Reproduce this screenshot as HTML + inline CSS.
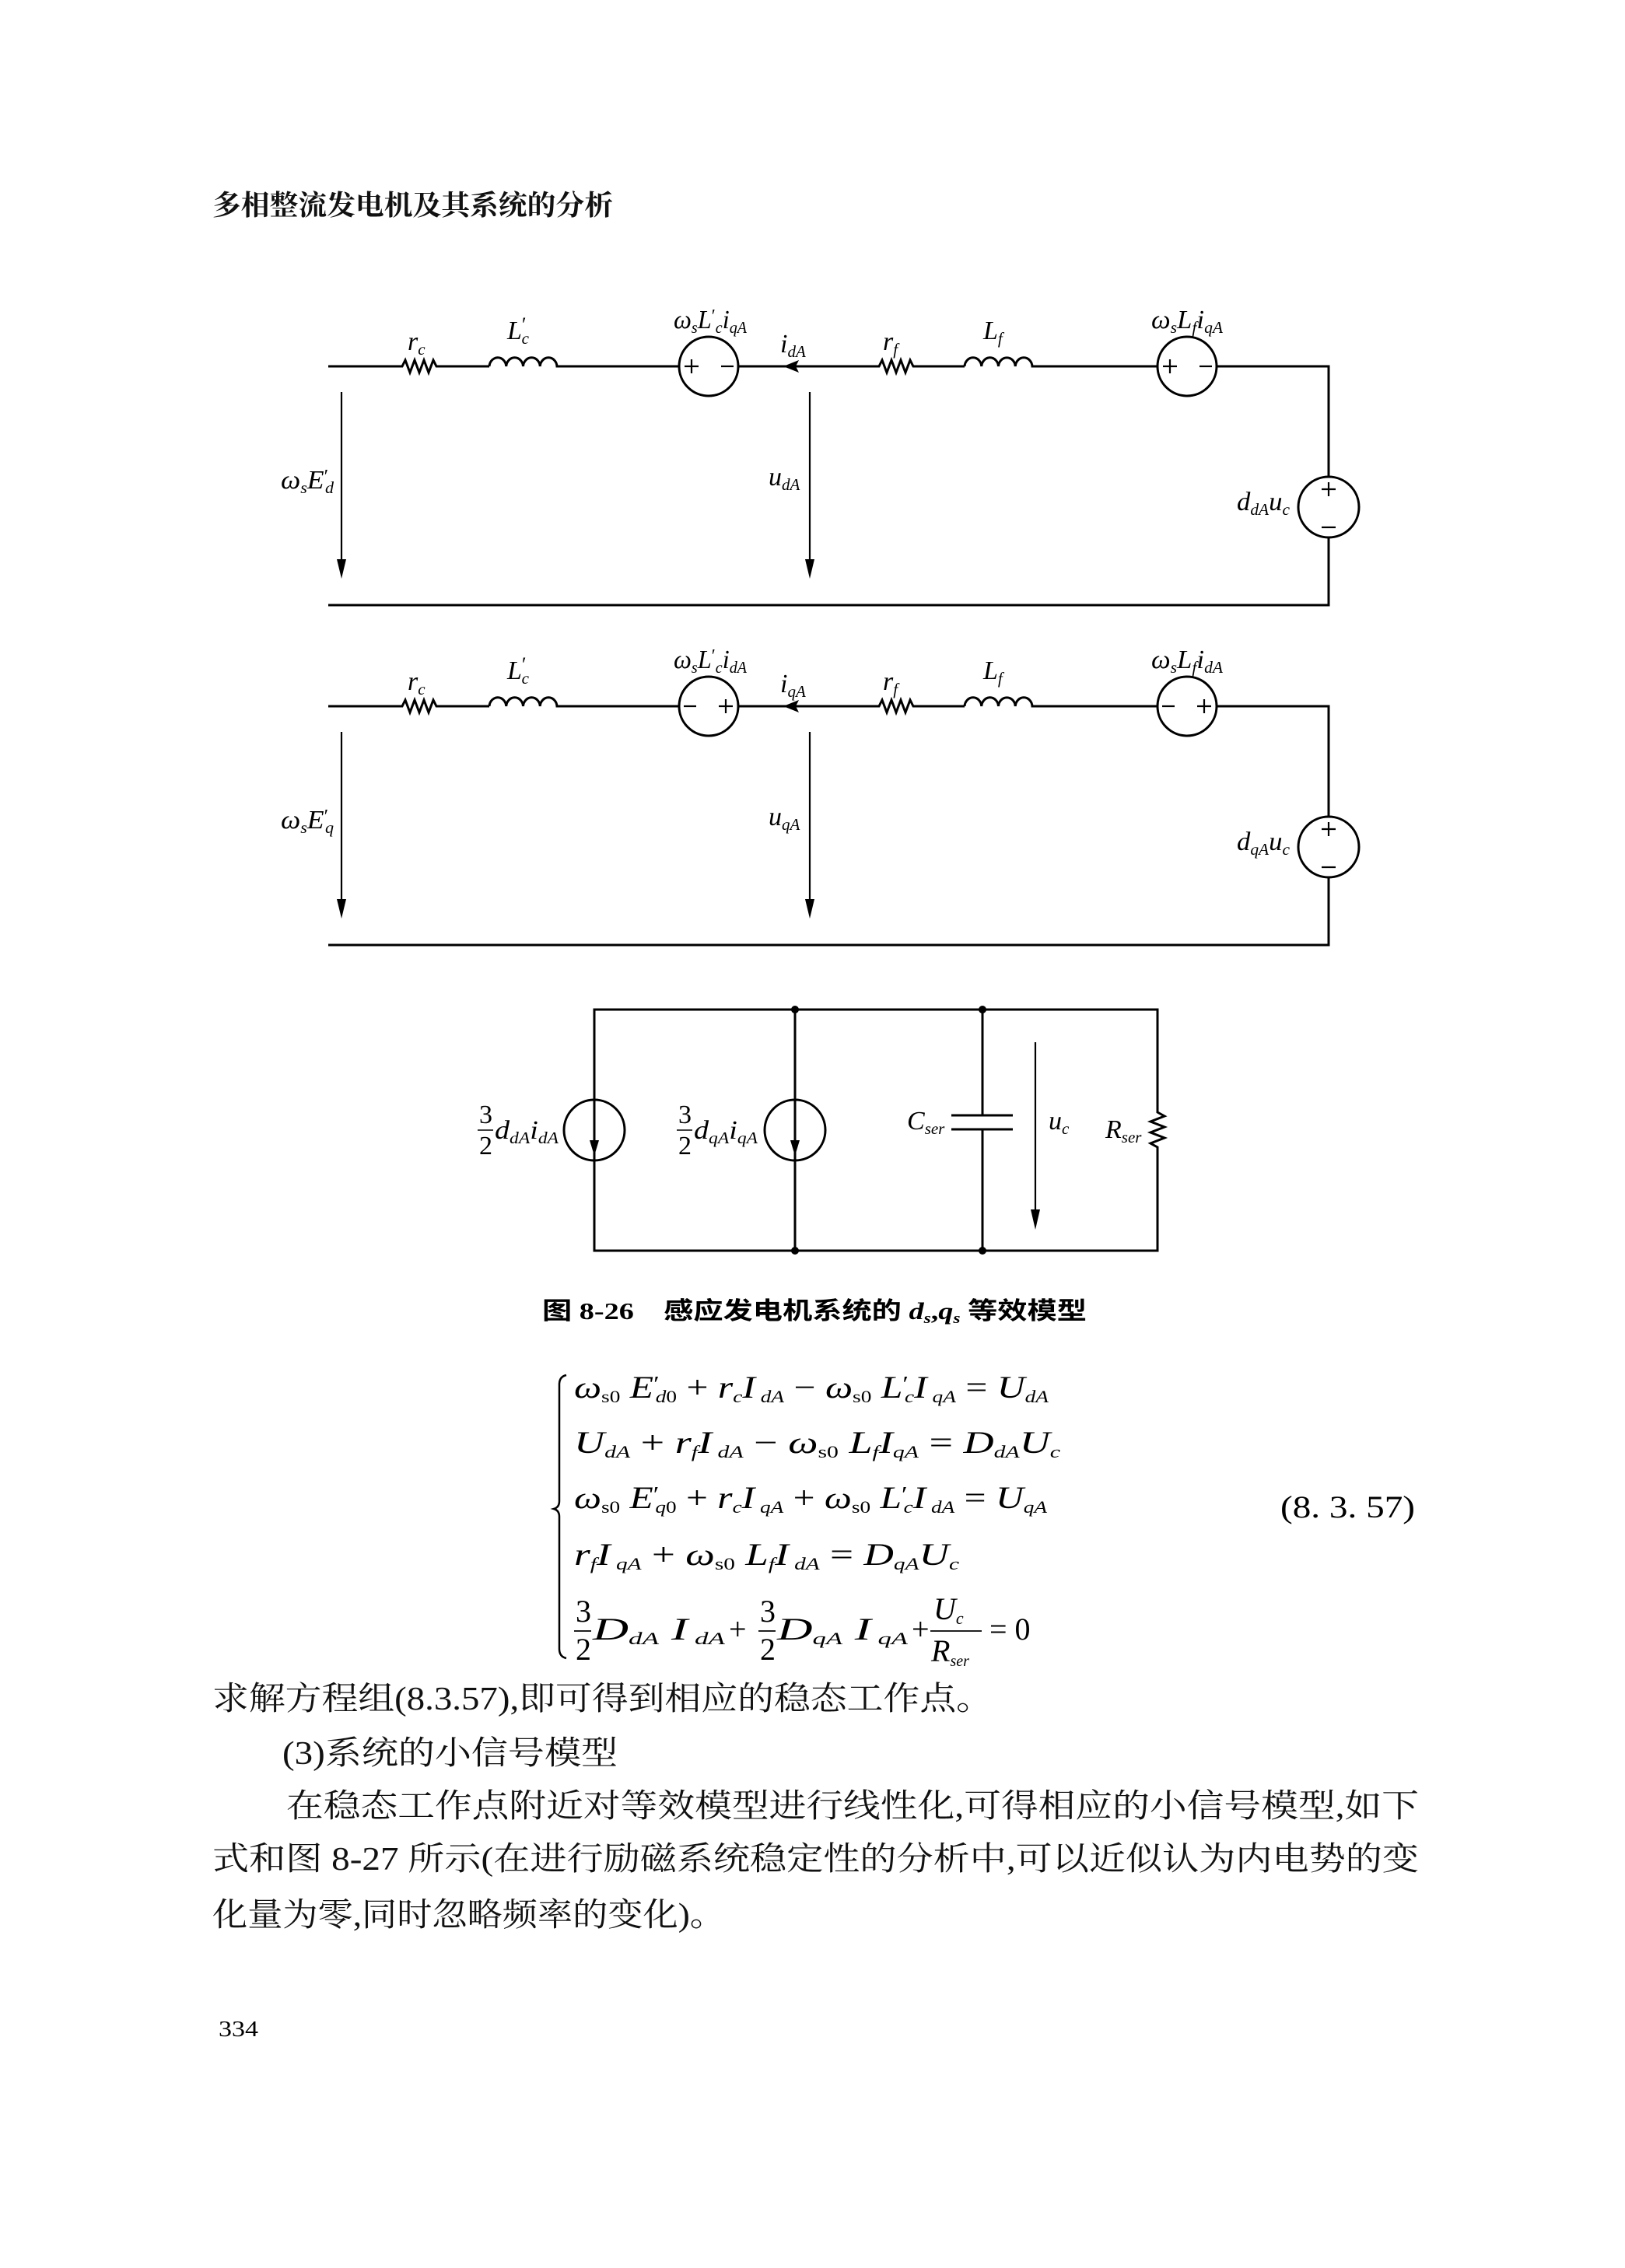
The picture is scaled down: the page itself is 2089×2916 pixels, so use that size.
<!DOCTYPE html>
<html><head><meta charset="utf-8"><style>
html,body{margin:0;padding:0;background:#fff}
svg{display:block}
.m{font-family:"Liberation Serif",serif;font-style:italic;fill:#000}
.r{font-family:"Liberation Serif",serif;font-style:normal;fill:#000}
.cj{font-family:"Liberation Serif","Noto Serif CJK SC",serif;fill:#111}
.w{stroke:#000;stroke-width:3;fill:none}
.t{stroke:#000;stroke-width:2.2;fill:none}
</style></head><body>
<svg width="2089" height="2916" viewBox="0 0 2089 2916" xmlns="http://www.w3.org/2000/svg">
<rect width="2089" height="2916" fill="#fff"/>

<text x="273" y="276" font-size="36" font-weight="bold" class="cj" textLength="515" lengthAdjust="spacingAndGlyphs">多相整流发电机及其系统的分析</text>

<defs>
<g id="ckt">
  <path class="w" d="M422 0 H517 l4 -8 l6 16 l6 -16 l6 16 l6 -16 l6 16 l6 -16 l4 8 H629"/>
  <path class="w" d="M629 0 a10.9 12 0 0 1 21.75 0 a10.9 12 0 0 1 21.75 0 a10.9 12 0 0 1 21.75 0 a10.9 12 0 0 1 21.75 0 H873"/>
  <circle cx="911" cy="0" r="38" class="w"/>
  <path class="w" d="M949 0 H1130 l4 -8 l6 16 l6 -16 l6 16 l6 -16 l6 16 l6 -16 l4 8 H1240"/>
  <path d="M1007 0 L1027 -8 L1023 0 L1027 8 Z" fill="#000"/>
  <path class="w" d="M1240 0 a10.9 12 0 0 1 21.75 0 a10.9 12 0 0 1 21.75 0 a10.9 12 0 0 1 21.75 0 a10.9 12 0 0 1 21.75 0 H1488"/>
  <circle cx="1526" cy="0" r="38" class="w"/>
  <path class="w" d="M1564 0 H1708 V142"/>
  <circle cx="1708" cy="181" r="39" class="w"/>
  <path class="w" d="M1708 220 V307 H422"/>
  <path class="t" d="M1699 158 h18 M1708 149 v18 M1699 207 h18"/>
  <line x1="439" y1="33" x2="439" y2="262" class="t"/>
  <path d="M433 248 L439 273 L445 248 Z" fill="#000"/>
  <line x1="1041" y1="33" x2="1041" y2="262" class="t"/>
  <path d="M1035 248 L1041 273 L1047 248 Z" fill="#000"/>
</g>
</defs>

<g transform="translate(0,471)">
  <use href="#ckt"/>
  <path class="t" d="M880 0 h18 M889 -9 v18 M927 0 h16 M1495 0 h18 M1504 -9 v18 M1542 0 h16"/>
</g>
<g transform="translate(0,908)">
  <use href="#ckt"/>
  <path class="t" d="M879 0 h16 M924 0 h18 M933 -9 v18 M1494 0 h16 M1539 0 h18 M1548 -9 v18"/>
</g>

<g font-size="34">
<text x="524" y="450" class="m">r<tspan font-size="21" dy="6">c</tspan></text>
<text x="652" y="436" class="m">L<tspan dy="-10" font-size="26" class="r">′</tspan><tspan font-size="21" dy="16" dx="-6">c</tspan></text>
<text x="866" y="422" class="m" textLength="94" lengthAdjust="spacingAndGlyphs">ω<tspan font-size="21" dy="6">s</tspan><tspan dy="-6">L</tspan><tspan font-size="24" dy="-8" class="r">′</tspan><tspan font-size="21" dy="14">c</tspan><tspan dy="-6">i</tspan><tspan font-size="21" dy="6">qA</tspan></text>
<text x="1003" y="453" class="m">i<tspan font-size="21" dy="6">dA</tspan></text>
<text x="1135" y="450" class="m">r<tspan font-size="21" dy="6">f</tspan></text>
<text x="1264" y="436" class="m">L<tspan font-size="21" dy="6">f</tspan></text>
<text x="1480" y="422" class="m" textLength="92" lengthAdjust="spacingAndGlyphs">ω<tspan font-size="21" dy="6">s</tspan><tspan dy="-6">L</tspan><tspan font-size="21" dy="6">f</tspan><tspan dy="-6">i</tspan><tspan font-size="21" dy="6">qA</tspan></text>
<text x="361" y="628" class="m" textLength="68" lengthAdjust="spacingAndGlyphs">ω<tspan font-size="21" dy="6">s</tspan><tspan dy="-6">E</tspan><tspan font-size="24" dy="-8" class="r">′</tspan><tspan font-size="21" dy="14" dx="-4">d</tspan></text>
<text x="988" y="624" class="m">u<tspan font-size="21" dy="6">dA</tspan></text>
<text x="1590" y="656" class="m" textLength="68" lengthAdjust="spacingAndGlyphs">d<tspan font-size="21" dy="6">dA</tspan><tspan dy="-6">u</tspan><tspan font-size="21" dy="6">c</tspan></text>
</g>
<g font-size="34">
<text x="524" y="887" class="m">r<tspan font-size="21" dy="6">c</tspan></text>
<text x="652" y="873" class="m">L<tspan dy="-10" font-size="26" class="r">′</tspan><tspan font-size="21" dy="16" dx="-6">c</tspan></text>
<text x="866" y="859" class="m" textLength="94" lengthAdjust="spacingAndGlyphs">ω<tspan font-size="21" dy="6">s</tspan><tspan dy="-6">L</tspan><tspan font-size="24" dy="-8" class="r">′</tspan><tspan font-size="21" dy="14">c</tspan><tspan dy="-6">i</tspan><tspan font-size="21" dy="6">dA</tspan></text>
<text x="1003" y="890" class="m">i<tspan font-size="21" dy="6">qA</tspan></text>
<text x="1135" y="887" class="m">r<tspan font-size="21" dy="6">f</tspan></text>
<text x="1264" y="873" class="m">L<tspan font-size="21" dy="6">f</tspan></text>
<text x="1480" y="859" class="m" textLength="92" lengthAdjust="spacingAndGlyphs">ω<tspan font-size="21" dy="6">s</tspan><tspan dy="-6">L</tspan><tspan font-size="21" dy="6">f</tspan><tspan dy="-6">i</tspan><tspan font-size="21" dy="6">dA</tspan></text>
<text x="361" y="1065" class="m" textLength="68" lengthAdjust="spacingAndGlyphs">ω<tspan font-size="21" dy="6">s</tspan><tspan dy="-6">E</tspan><tspan font-size="24" dy="-8" class="r">′</tspan><tspan font-size="21" dy="14" dx="-4">q</tspan></text>
<text x="988" y="1061" class="m">u<tspan font-size="21" dy="6">qA</tspan></text>
<text x="1590" y="1093" class="m" textLength="68" lengthAdjust="spacingAndGlyphs">d<tspan font-size="21" dy="6">qA</tspan><tspan dy="-6">u</tspan><tspan font-size="21" dy="6">c</tspan></text>
</g>

<path class="w" d="M764 1298 H1488 V1430 l9 5 l-18 7 l18 7 l-18 7 l18 7 l-18 7 l9 5 V1608 H764 Z"/>
<line x1="1022" y1="1298" x2="1022" y2="1608" class="w"/>
<path class="w" d="M1263 1298 V1434 M1263 1452 V1608 M1223 1434 H1302 M1223 1452 H1302"/>
<circle cx="764" cy="1453" r="39" class="w"/>
<circle cx="1022" cy="1453" r="39" class="w"/>
<path d="M758 1466 L764 1486 L770 1466 Z" fill="#000"/>
<path d="M1016 1466 L1022 1486 L1028 1466 Z" fill="#000"/>
<circle cx="1022" cy="1298" r="5" fill="#000"/><circle cx="1263" cy="1298" r="5" fill="#000"/>
<circle cx="1022" cy="1608" r="5" fill="#000"/><circle cx="1263" cy="1608" r="5" fill="#000"/>
<line x1="1331" y1="1340" x2="1331" y2="1565" class="t"/>
<path d="M1325 1555 L1331 1581 L1337 1555 Z" fill="#000"/>
<g font-size="34">
<text x="616" y="1444" class="r">3</text><line x1="614" y1="1453" x2="634" y2="1453" stroke="#000" stroke-width="1.5"/><text x="616" y="1484" class="r">2</text>
<text x="636" y="1464" class="m" textLength="82" lengthAdjust="spacingAndGlyphs">d<tspan font-size="21" dy="6">dA</tspan><tspan dy="-6">i</tspan><tspan font-size="21" dy="6">dA</tspan></text>
<text x="872" y="1444" class="r">3</text><line x1="870" y1="1453" x2="890" y2="1453" stroke="#000" stroke-width="1.5"/><text x="872" y="1484" class="r">2</text>
<text x="892" y="1464" class="m" textLength="82" lengthAdjust="spacingAndGlyphs">d<tspan font-size="21" dy="6">qA</tspan><tspan dy="-6">i</tspan><tspan font-size="21" dy="6">qA</tspan></text>
<text x="1166" y="1452" class="m">C<tspan font-size="21" dy="6">ser</tspan></text>
<text x="1348" y="1452" class="m">u<tspan font-size="21" dy="6">c</tspan></text>
<text x="1421" y="1463" class="m">R<tspan font-size="21" dy="6">ser</tspan></text>
</g>

<text x="697" y="1696" font-size="31" font-weight="bold" font-family="Liberation Serif, Noto Sans CJK SC, sans-serif" textLength="700" lengthAdjust="spacingAndGlyphs">图 8-26　感应发电机系统的 <tspan font-style="italic">d</tspan><tspan font-size="19" dy="5" font-style="italic">s</tspan><tspan dy="-5">,</tspan><tspan font-style="italic">q</tspan><tspan font-size="19" dy="5" font-style="italic">s</tspan><tspan dy="-5"> 等效模型</tspan></text>

<path d="M728 1768 Q719 1770 719 1780 V1930 Q719 1938 712 1940 Q719 1942 719 1950 V2120 Q719 2130 728 2132" stroke="#000" stroke-width="2.5" fill="none"/>

<g font-size="40">
<text x="738" y="1797" class="m" textLength="610" lengthAdjust="spacingAndGlyphs">ω<tspan font-size="22" dy="6" class="r">s0</tspan><tspan dy="-6"> E</tspan><tspan font-size="28" dy="-8" class="r">′</tspan><tspan font-size="22" dy="14" dx="-4">d</tspan><tspan font-size="22" class="r">0</tspan><tspan dy="-6" class="r"> + </tspan>r<tspan font-size="22" dy="6">c</tspan><tspan dy="-6">I</tspan><tspan font-size="22" dy="6"> dA</tspan><tspan dy="-6" class="r"> − </tspan>ω<tspan font-size="22" dy="6" class="r">s0</tspan><tspan dy="-6"> L</tspan><tspan font-size="28" dy="-8" class="r">′</tspan><tspan font-size="22" dy="14" dx="-4">c</tspan><tspan dy="-6">I</tspan><tspan font-size="22" dy="6"> qA</tspan><tspan dy="-6" class="r"> = </tspan>U<tspan font-size="22" dy="6">dA</tspan></text>
<text x="738" y="1868" class="m" textLength="625" lengthAdjust="spacingAndGlyphs">U<tspan font-size="22" dy="6">dA</tspan><tspan dy="-6" class="r"> + </tspan>r<tspan font-size="22" dy="6">f</tspan><tspan dy="-6">I</tspan><tspan font-size="22" dy="6"> dA</tspan><tspan dy="-6" class="r"> − </tspan>ω<tspan font-size="22" dy="6" class="r">s0</tspan><tspan dy="-6"> L</tspan><tspan font-size="22" dy="6">f</tspan><tspan dy="-6">I</tspan><tspan font-size="22" dy="6">qA</tspan><tspan dy="-6" class="r"> = </tspan>D<tspan font-size="22" dy="6">dA</tspan><tspan dy="-6">U</tspan><tspan font-size="22" dy="6">c</tspan></text>
<text x="738" y="1939" class="m" textLength="608" lengthAdjust="spacingAndGlyphs">ω<tspan font-size="22" dy="6" class="r">s0</tspan><tspan dy="-6"> E</tspan><tspan font-size="28" dy="-8" class="r">′</tspan><tspan font-size="22" dy="14" dx="-4">q</tspan><tspan font-size="22" class="r">0</tspan><tspan dy="-6" class="r"> + </tspan>r<tspan font-size="22" dy="6">c</tspan><tspan dy="-6">I</tspan><tspan font-size="22" dy="6"> qA</tspan><tspan dy="-6" class="r"> + </tspan>ω<tspan font-size="22" dy="6" class="r">s0</tspan><tspan dy="-6"> L</tspan><tspan font-size="28" dy="-8" class="r">′</tspan><tspan font-size="22" dy="14" dx="-4">c</tspan><tspan dy="-6">I</tspan><tspan font-size="22" dy="6"> dA</tspan><tspan dy="-6" class="r"> = </tspan>U<tspan font-size="22" dy="6">qA</tspan></text>
<text x="738" y="2012" class="m" textLength="495" lengthAdjust="spacingAndGlyphs">r<tspan font-size="22" dy="6">f</tspan><tspan dy="-6">I</tspan><tspan font-size="22" dy="6"> qA</tspan><tspan dy="-6" class="r"> + </tspan>ω<tspan font-size="22" dy="6" class="r">s0</tspan><tspan dy="-6"> L</tspan><tspan font-size="22" dy="6">f</tspan><tspan dy="-6">I</tspan><tspan font-size="22" dy="6"> dA</tspan><tspan dy="-6" class="r"> = </tspan>D<tspan font-size="22" dy="6">qA</tspan><tspan dy="-6">U</tspan><tspan font-size="22" dy="6">c</tspan></text>
<text x="740" y="2085" class="r">3</text><line x1="738" y1="2097" x2="760" y2="2097" stroke="#000" stroke-width="1.8"/><text x="740" y="2134" class="r">2</text>
<text x="762" y="2108" class="m" textLength="170" lengthAdjust="spacingAndGlyphs">D<tspan font-size="22" dy="6">dA</tspan><tspan dy="-6"> I</tspan><tspan font-size="22" dy="6"> dA</tspan></text>
<text x="937" y="2108" class="r">+</text>
<text x="977" y="2085" class="r">3</text><line x1="975" y1="2097" x2="997" y2="2097" stroke="#000" stroke-width="1.8"/><text x="977" y="2134" class="r">2</text>
<text x="999" y="2108" class="m" textLength="168" lengthAdjust="spacingAndGlyphs">D<tspan font-size="22" dy="6">qA</tspan><tspan dy="-6"> I</tspan><tspan font-size="22" dy="6"> qA</tspan></text>
<text x="1172" y="2108" class="r">+</text>
<text x="1200" y="2082" class="m">U<tspan font-size="22" dy="6">c</tspan></text><line x1="1196" y1="2097" x2="1262" y2="2097" stroke="#000" stroke-width="1.8"/>
<text x="1197" y="2136" class="m">R<tspan font-size="20" dy="6">ser</tspan></text>
<text x="1272" y="2108" class="r">= 0</text>
<text x="1646" y="1951" class="r" textLength="173" lengthAdjust="spacingAndGlyphs">(8. 3. 57)</text>
</g>

<g font-size="42" class="cj">
<text x="273" y="2198" textLength="1003" lengthAdjust="spacingAndGlyphs">求解方程组(8.3.57),即可得到相应的稳态工作点。</text>
<text x="363" y="2268" textLength="431" lengthAdjust="spacingAndGlyphs">(3)系统的小信号模型</text>
<text x="368" y="2336" textLength="1456" lengthAdjust="spacingAndGlyphs">在稳态工作点附近对等效模型进行线性化,可得相应的小信号模型,如下</text>
<text x="273" y="2404" textLength="1551" lengthAdjust="spacingAndGlyphs">式和图 8-27 所示(在进行励磁系统稳定性的分析中,可以近似认为内电势的变</text>
<text x="273" y="2476" textLength="659" lengthAdjust="spacingAndGlyphs">化量为零,同时忽略频率的变化)。</text>
</g>
<text x="281" y="2618" font-size="28" class="r" textLength="51" lengthAdjust="spacingAndGlyphs">334</text>
</svg>
</body></html>
